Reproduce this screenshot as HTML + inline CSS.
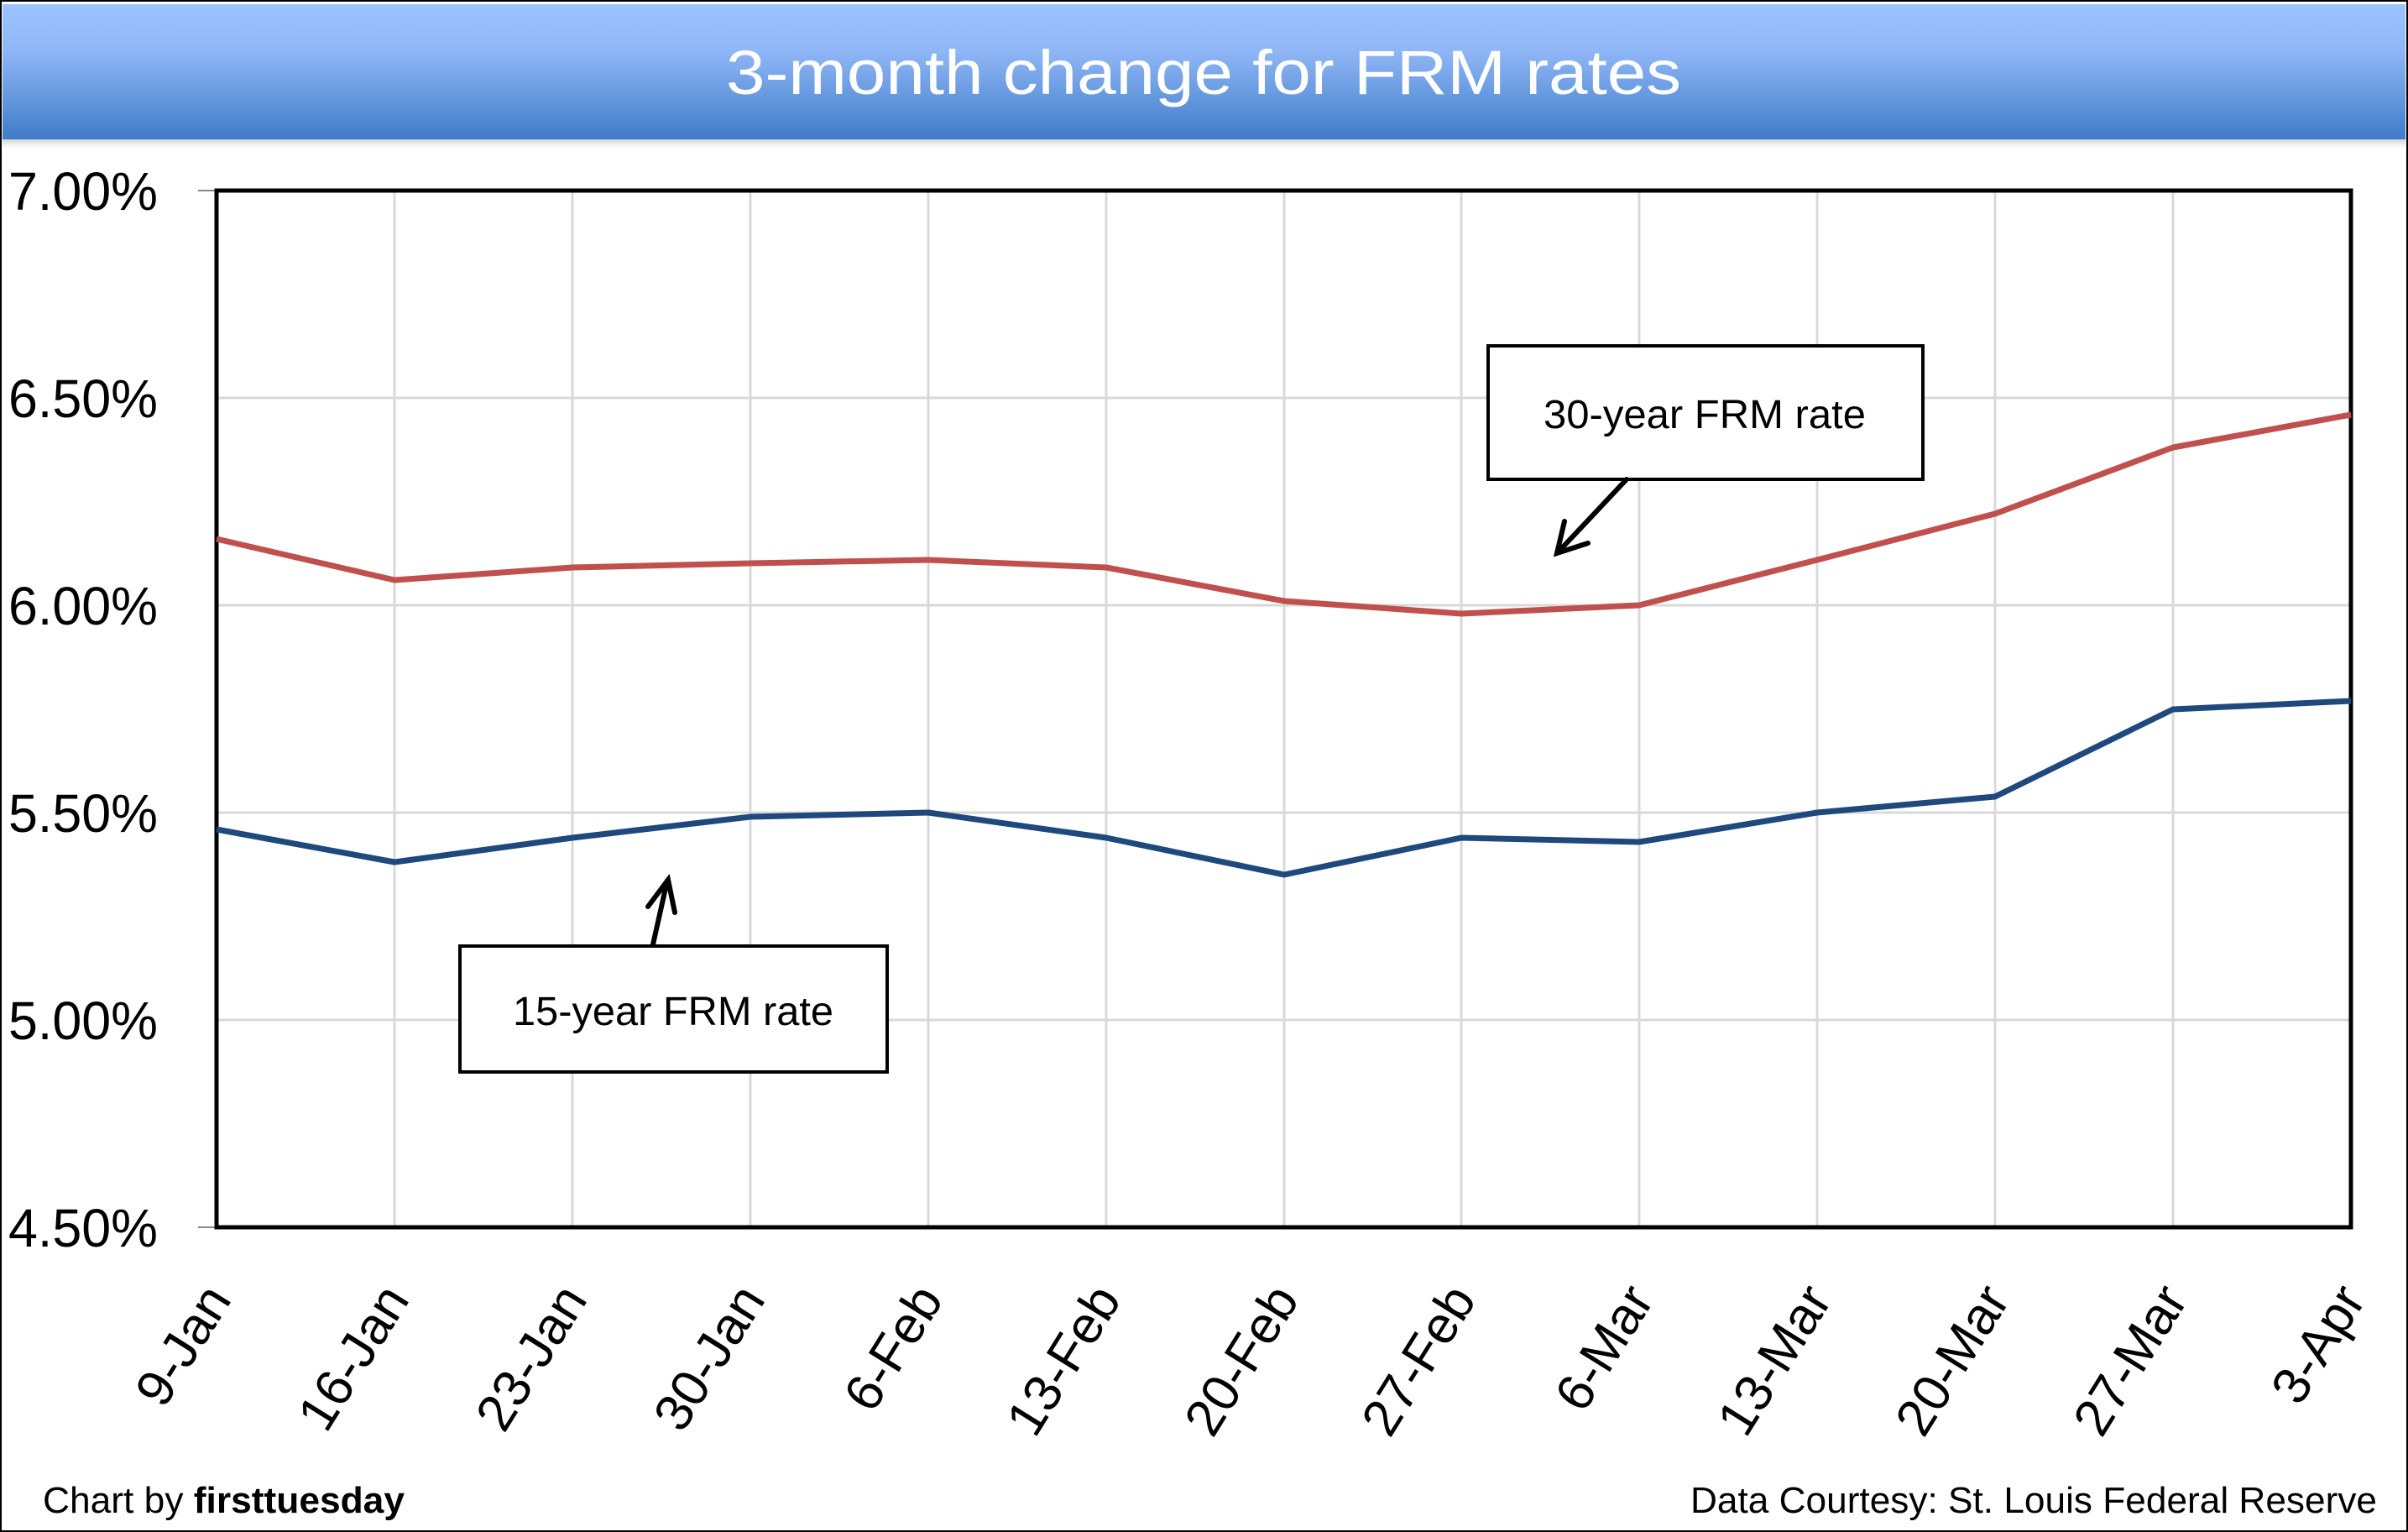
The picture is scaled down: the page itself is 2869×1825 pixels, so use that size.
<!DOCTYPE html>
<html><head><meta charset="utf-8"><style>
html,body{margin:0;padding:0;background:#fff;}
svg{display:block;font-family:"Liberation Sans",sans-serif;}
</style></head><body>
<svg width="2869" height="1825" viewBox="0 0 2869 1825" xmlns="http://www.w3.org/2000/svg">
<defs>
<linearGradient id="tg" x1="0" y1="0" x2="0" y2="1">
<stop offset="0" stop-color="#9DC3FF"/><stop offset="0.35" stop-color="#8FB6F6"/><stop offset="1" stop-color="#3F7CC8"/>
</linearGradient>
<linearGradient id="sh" x1="0" y1="0" x2="0" y2="1">
<stop offset="0" stop-color="#bbb" stop-opacity="0.7"/><stop offset="1" stop-color="#fff" stop-opacity="0"/>
</linearGradient>
</defs>
<rect x="1" y="1" width="2867" height="1823" fill="#fff" stroke="#000" stroke-width="2"/>
<rect x="3" y="5" width="2863" height="161" fill="url(#tg)"/>
<rect x="3" y="166" width="2863" height="14" fill="url(#sh)"/>
<text x="1434" y="112" font-size="74" fill="#fff" text-anchor="middle" textLength="1138" lengthAdjust="spacingAndGlyphs">3-month change for FRM rates</text>

<g stroke="#d9d9d9" stroke-width="3">
<line x1="258" y1="474" x2="2801" y2="474"/><line x1="258" y1="721" x2="2801" y2="721"/>
<line x1="258" y1="968" x2="2801" y2="968"/><line x1="258" y1="1215" x2="2801" y2="1215"/>
<line x1="470" y1="227" x2="470" y2="1462"/><line x1="682" y1="227" x2="682" y2="1462"/>
<line x1="894" y1="227" x2="894" y2="1462"/><line x1="1106" y1="227" x2="1106" y2="1462"/>
<line x1="1318" y1="227" x2="1318" y2="1462"/><line x1="1530" y1="227" x2="1530" y2="1462"/>
<line x1="1741" y1="227" x2="1741" y2="1462"/><line x1="1953" y1="227" x2="1953" y2="1462"/>
<line x1="2165" y1="227" x2="2165" y2="1462"/><line x1="2377" y1="227" x2="2377" y2="1462"/>
<line x1="2589" y1="227" x2="2589" y2="1462"/>
</g>
<g stroke="#888" stroke-width="2">
<line x1="236" y1="227" x2="258" y2="227"/><line x1="236" y1="1462" x2="258" y2="1462"/>
</g>
<rect x="258" y="227" width="2543" height="1235" fill="none" stroke="#000" stroke-width="5"/>

<g font-size="64" text-anchor="end" fill="#000">
<text x="188" y="250" textLength="178" lengthAdjust="spacingAndGlyphs">7.00%</text><text x="188" y="497" textLength="178" lengthAdjust="spacingAndGlyphs">6.50%</text><text x="188" y="744" textLength="178" lengthAdjust="spacingAndGlyphs">6.00%</text>
<text x="188" y="991" textLength="178" lengthAdjust="spacingAndGlyphs">5.50%</text><text x="188" y="1238" textLength="178" lengthAdjust="spacingAndGlyphs">5.00%</text><text x="188" y="1485" textLength="178" lengthAdjust="spacingAndGlyphs">4.50%</text>
</g>

<polyline fill="none" stroke="#C0504D" stroke-width="7" stroke-linejoin="round" points="258,642 470,691 682,676 894,671 1106,667 1318,676 1530,716 1741,731 1953,721 2165,667 2377,612 2589,533 2801,494"/>
<polyline fill="none" stroke="#1F497D" stroke-width="7" stroke-linejoin="round" points="258,988 470,1027 682,998 894,973 1106,968 1318,998 1530,1042 1741,998 1953,1003 2165,968 2377,949 2589,845 2801,835"/>

<g font-size="62" text-anchor="end" fill="#000">
<text transform="translate(277,1548) rotate(-58)">9-Jan</text>
<text transform="translate(489,1548) rotate(-58)">16-Jan</text>
<text transform="translate(701,1548) rotate(-58)">23-Jan</text>
<text transform="translate(913,1548) rotate(-58)">30-Jan</text>
<text transform="translate(1125,1548) rotate(-58)">6-Feb</text>
<text transform="translate(1337,1548) rotate(-58)">13-Feb</text>
<text transform="translate(1549,1548) rotate(-58)">20-Feb</text>
<text transform="translate(1760,1548) rotate(-58)">27-Feb</text>
<text transform="translate(1972,1548) rotate(-58)">6-Mar</text>
<text transform="translate(2184,1548) rotate(-58)">13-Mar</text>
<text transform="translate(2396,1548) rotate(-58)">20-Mar</text>
<text transform="translate(2608,1548) rotate(-58)">27-Mar</text>
<text transform="translate(2820,1548) rotate(-58)">3-Apr</text>
</g>

<rect x="1773" y="412" width="518" height="159" fill="#fff" stroke="#000" stroke-width="4"/>
<text x="1839" y="510" font-size="48" textLength="384" lengthAdjust="spacingAndGlyphs">30-year FRM rate</text>
<g stroke="#000" stroke-width="6" stroke-linecap="round" fill="none">
<line x1="1938" y1="571" x2="1857" y2="657"/>
<polyline points="1864,621 1855,659 1892,647"/>
</g>

<rect x="548" y="1127" width="509" height="150" fill="#fff" stroke="#000" stroke-width="4"/>
<text x="611" y="1221" font-size="48" textLength="382" lengthAdjust="spacingAndGlyphs">15-year FRM rate</text>
<g stroke="#000" stroke-width="6" stroke-linecap="round" fill="none">
<line x1="778" y1="1125" x2="795" y2="1049"/>
<polyline points="772,1080 796,1048 804,1087"/>
</g>

<text x="51" y="1802" font-size="44" textLength="431" lengthAdjust="spacingAndGlyphs">Chart by <tspan font-weight="bold">firsttuesday</tspan></text>
<text x="2832" y="1802" font-size="44" text-anchor="end" textLength="818" lengthAdjust="spacingAndGlyphs">Data Courtesy: St. Louis Federal Reserve</text>
</svg>
</body></html>
